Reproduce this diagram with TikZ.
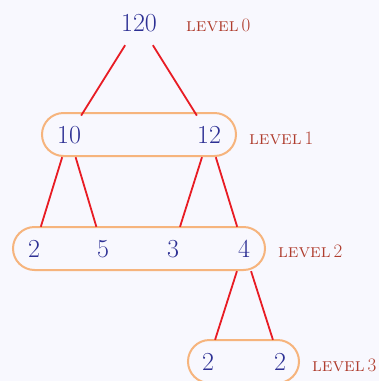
\documentclass[tikz,border=0pt]{standalone}
\usetikzlibrary{positioning}
\definecolor{bgc}{RGB}{248,248,254}
\definecolor{numc}{RGB}{45,48,148}
\definecolor{labc}{RGB}{175,60,45}
\definecolor{edgec}{RGB}{232,28,36}
\definecolor{ringc}{RGB}{246,180,125}
\begin{document}
\begin{tikzpicture}[x=1pt,y=-1pt,
  numnode/.style={text=numc, font=\fontsize{26}{30}\selectfont, inner sep=0pt, minimum height=44pt, minimum width=20pt},
  labnode/.style={text=labc, font=\fontsize{19}{23}\selectfont, anchor=base west, inner sep=0pt},
  edgeline/.style={draw=edgec, line width=1.8pt},
  ringbox/.style={draw=ringc, line width=2pt, rounded corners=21.5pt, minimum height=43pt, inner sep=0pt}]
\fill[bgc] (0,0) rectangle (379,381);
\useasboundingbox (0,0) rectangle (379,381);
% level boxes
\node[ringbox, minimum width=194pt] (b1) at (139,134.5) {};
\node[ringbox, minimum width=252pt] (b2) at (139,248.5) {};
\node[ringbox, minimum width=111pt] (b3) at (243.5,361.5) {};
% numbers
\node[numnode] (n0) at (139,23) {120};
\node[numnode] (n10) at (69,135) {10};
\node[numnode] (n12) at (209,135) {12};
\node[numnode] (m2) at (34,249) {2};
\node[numnode] (m5) at (103,249) {5};
\node[numnode] (m3) at (173,249) {3};
\node[numnode] (m4) at (244,249) {4};
\node[numnode] (k1) at (208,362) {2};
\node[numnode] (k2) at (280,362) {2};
% level labels
\node[labnode] (l0) at (186,31.5) {\textsc{level}\,0};
\node[labnode] (l1) at (249,144) {\textsc{level}\,1};
\node[labnode] (l2) at (278,257) {\textsc{level}\,2};
\node[labnode] (l3) at (312,371) {\textsc{level}\,3};
% edges
\draw[edgeline] (n0) -- (n10);
\draw[edgeline] (n0) -- (n12);
\draw[edgeline] (n10) -- (m2);
\draw[edgeline] (n10) -- (m5);
\draw[edgeline] (n12) -- (m3);
\draw[edgeline] (n12) -- (m4);
\draw[edgeline] (m4) -- (k1);
\draw[edgeline] (m4) -- (k2);
\end{tikzpicture}
\end{document}
